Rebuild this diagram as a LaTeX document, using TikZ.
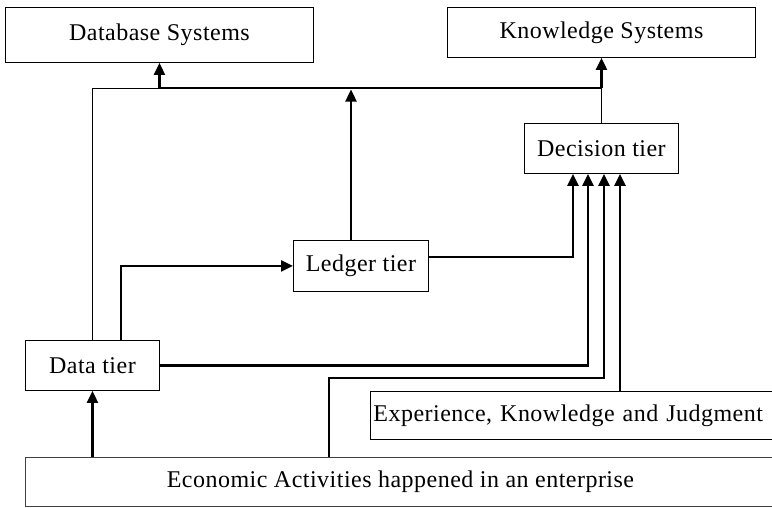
\documentclass[tikz,border=0pt]{standalone}
\usepackage{fontspec}
\setmainfont{Liberation Serif}[LetterSpace=2]
\usetikzlibrary{arrows.meta}
\begin{document}
\begin{tikzpicture}[x=1pt,y=-1pt,
  box/.style={draw=black, line width=0.9pt, inner sep=0pt, font=\fontsize{24}{28}\selectfont},
  thinline/.style={line width=1pt},
  heavy/.style={line width=2.4pt},
  heavyarrow/.style={line width=2.4pt, -{Triangle[length=12pt,width=11pt]}}]
  \useasboundingbox (0,0) rectangle (772,507);
  \clip (0,0) rectangle (772,507);

  % boxes (corner positions in pt, y downwards)
  \node[box, minimum width=308pt, minimum height=55pt, anchor=north west] (dbs) at (5,7) {Database Systems};
  \node[box, minimum width=308pt, minimum height=50pt, anchor=north west] (ks) at (447,7) {Knowledge Systems};
  \node[box, minimum width=154pt, minimum height=50pt, anchor=north west] (dec) at (524,123) {Decision tier};
  \node[box, minimum width=135pt, minimum height=51pt, anchor=north west] (ledger) at (293,240) {Ledger tier};
  \node[box, minimum width=134pt, minimum height=50pt, anchor=north west] (data) at (25,340) {Data tier};
  \node[box, minimum width=420pt, minimum height=48pt, anchor=north west, text width=414pt, align=left] (exp) at (370,391) {Experience, Knowledge and Judgment};
  \node[box, minimum width=750pt, minimum height=49pt, anchor=north west, draw=black!75] (econ) at (25,457) {Economic Activities happened in an enterprise};

  % upper bus feeding the two systems
  \draw[thinline] (data.north -| 92,0) |- (dbs.south |- 0,88);
  \draw[heavy] (dbs.south |- 0,88) -- (ks.south |- 0,88);
  \draw[heavyarrow] (dbs.south |- 0,88) -- (dbs.south);
  \draw[heavyarrow] (ks.south |- 0,88) -- (ks.south);
  \draw[thinline] (dec.north) -- (ks.south |- 0,88);
  \draw[heavyarrow] (ledger.north -| 351,0) -- (351,89.5);

  % flows between tiers
  \draw[heavyarrow] (econ.north -| data.south) -- (data.south);
  \draw[heavyarrow] (data.north -| 121,0) |- (ledger.west);
  \draw[heavyarrow] (ledger.east |- 0,257) -| (dec.south -| 573,0);
  \draw[heavyarrow] (data.east) -| (dec.south -| 588,0);
  \draw[heavyarrow] (econ.north -| 329,0) |- (604,378) -- (dec.south -| 604,0);
  \draw[heavyarrow] (exp.north -| 620,0) -- (dec.south -| 620,0);
\end{tikzpicture}
\end{document}
